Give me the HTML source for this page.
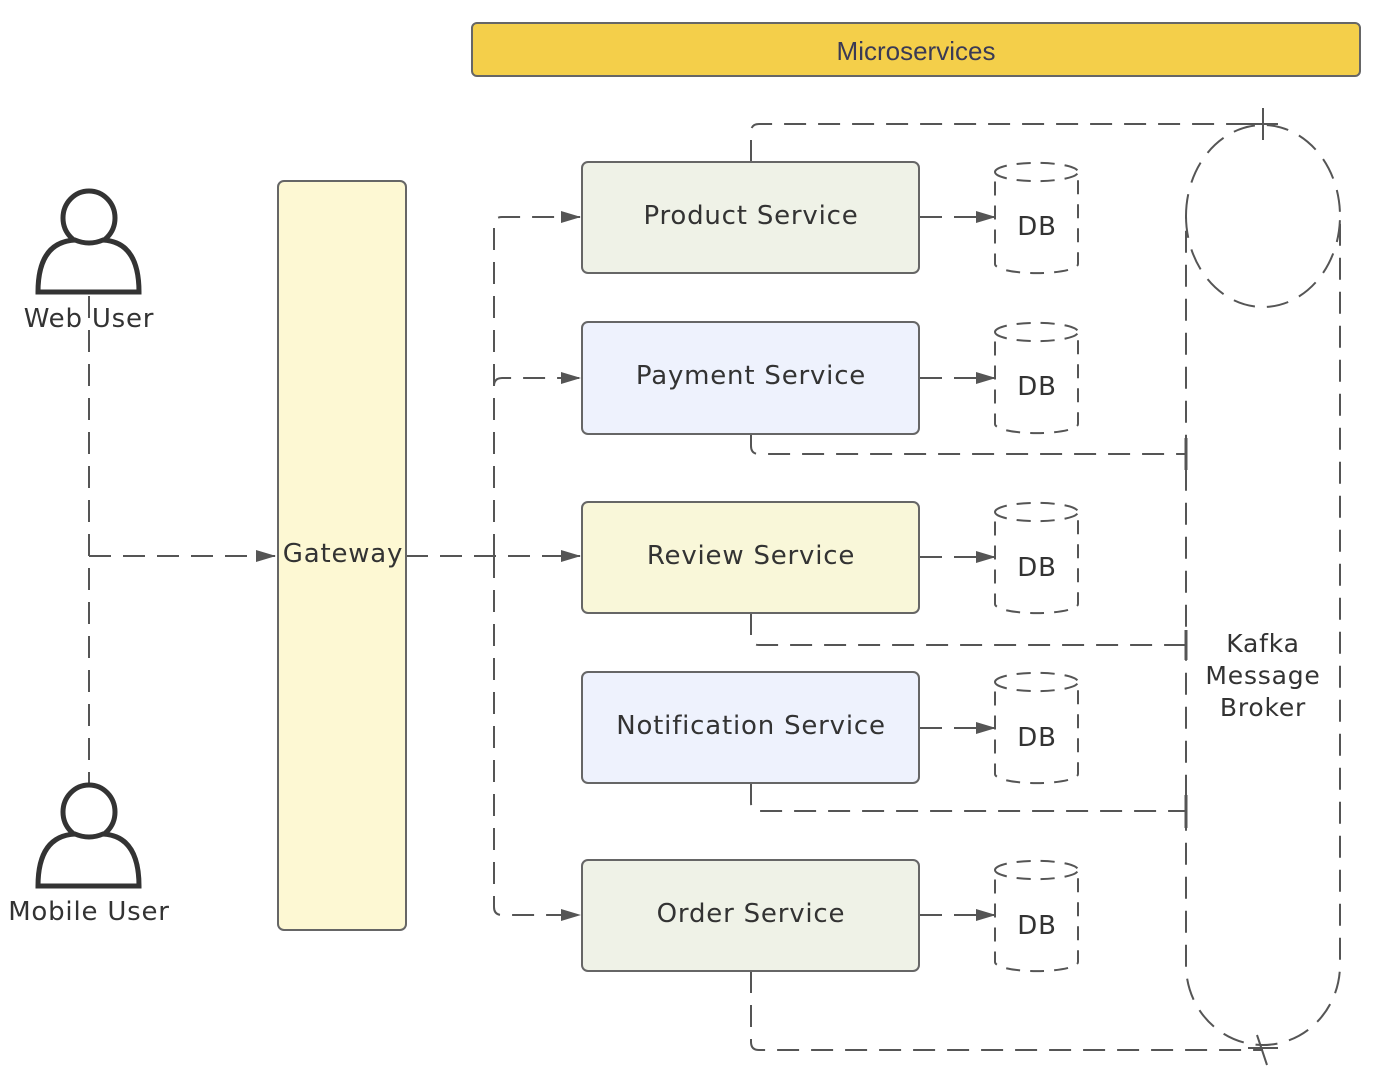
<!DOCTYPE html>
<html><head><meta charset="utf-8"><style>
html,body{margin:0;padding:0;background:#fff;}
svg{display:block;}
text{font-family:"DejaVu Sans","Liberation Sans",sans-serif;fill:#333;letter-spacing:0.8px;}
</style></head><body>
<svg width="1380" height="1087" viewBox="0 0 1380 1087" xmlns="http://www.w3.org/2000/svg">
<defs>
<marker id="ar" markerWidth="20" markerHeight="14" refX="19" refY="7" orient="auto" markerUnits="userSpaceOnUse">
<path d="M0,1 L20,7 L0,13 z" fill="#555"/>
</marker>
</defs>
<rect x="472" y="23" width="888" height="53" rx="5" fill="#f4cf4a" stroke="#666" stroke-width="2"/>
<text x="916" y="60" text-anchor="middle" font-size="26" style="font-family:'Liberation Sans',sans-serif;fill:#3a3a55;letter-spacing:0">Microservices</text>

<g fill="none" stroke="#555" stroke-width="2" stroke-dasharray="22,12">
<path d="M89 296 V785"/>
<path d="M89 556 H275" marker-end="url(#ar)"/>
<path d="M406 556 H580" marker-end="url(#ar)"/>
<path d="M494 556 V225 Q494 217 502 217 H580" marker-end="url(#ar)"/>
<path d="M494 556 V386 Q494 378 502 378 H580" marker-end="url(#ar)"/>
<path d="M494 556 V907 Q494 915 502 915 H580" marker-end="url(#ar)"/>
<path d="M920 217 H995" marker-end="url(#ar)"/>
<path d="M920 378 H995" marker-end="url(#ar)"/>
<path d="M920 557 H995" marker-end="url(#ar)"/>
<path d="M920 728 H995" marker-end="url(#ar)"/>
<path d="M920 915 H995" marker-end="url(#ar)"/>
<path d="M751 162 V132 Q751 124 759 124 H1263"/>
<path d="M751 434 V446 Q751 454 759 454 H1186"/>
<path d="M751 613 V637 Q751 645 759 645 H1186"/>
<path d="M751 783 V803 Q751 811 759 811 H1186"/>
<path d="M751 971 V1042 Q751 1050 759 1050 H1263"/>
<path d="M1186 216 A77 91 0 0 1 1340 216 V965 A77 80 0 0 1 1186 965 Z"/>
<path d="M1186 216 A77 91 0 0 0 1340 216"/>
</g>
<g stroke="#555" stroke-width="2">
<path d="M1263 108 V140 M1248 124 H1278"/>
<path d="M1257 1035 L1267 1065 M1248 1048 H1278"/>
<path d="M1186 438 V470 M1186 630 V660 M1186 795 V828" stroke-width="3"/>
</g>
<text x="1263" y="652" text-anchor="middle" font-size="25">Kafka</text>
<text x="1263" y="684" text-anchor="middle" font-size="25">Message</text>
<text x="1263" y="716" text-anchor="middle" font-size="25">Broker</text>

<g fill="#fff" stroke="#333" stroke-width="5">
<ellipse cx="89" cy="218" rx="26" ry="27"/>
<path d="M38 292 Q38 242 75 240 Q89 246 103 240 Q139 242 139 292 Z"/>
<ellipse cx="89" cy="812" rx="26" ry="27"/>
<path d="M38 886 Q38 836 75 834 Q89 840 103 834 Q139 836 139 886 Z"/>
</g>
<text x="89" y="327" text-anchor="middle" font-size="26">Web User</text>
<text x="89" y="920" text-anchor="middle" font-size="26">Mobile User</text>

<rect x="278" y="181" width="128" height="749" rx="6" fill="#fdf8d3" stroke="#666" stroke-width="2"/>
<text x="343" y="562" text-anchor="middle" font-size="26">Gateway</text>

<g stroke="#666" stroke-width="2">
<rect x="582" y="162" width="337" height="111" rx="6" fill="#eff2e7"/>
<rect x="582" y="322" width="337" height="112" rx="6" fill="#eef2fd"/>
<rect x="582" y="502" width="337" height="111" rx="6" fill="#f9f7d9"/>
<rect x="582" y="672" width="337" height="111" rx="6" fill="#eef2fd"/>
<rect x="582" y="860" width="337" height="111" rx="6" fill="#eff2e7"/>
</g>
<g font-size="26" text-anchor="middle">
<text x="751" y="224">Product Service</text>
<text x="751" y="384">Payment Service</text>
<text x="751" y="564">Review Service</text>
<text x="751" y="734">Notification Service</text>
<text x="751" y="922">Order Service</text>
</g>

<g fill="none" stroke="#555" stroke-width="2" stroke-dasharray="14,10">
<path d="M995 172 A41 9 0 0 1 1078 172 V264 A41 9 0 0 1 995 264 Z M995 172 A41 9 0 0 0 1078 172"/>
<path d="M995 332 A41 9 0 0 1 1078 332 V424 A41 9 0 0 1 995 424 Z M995 332 A41 9 0 0 0 1078 332"/>
<path d="M995 512 A41 9 0 0 1 1078 512 V604 A41 9 0 0 1 995 604 Z M995 512 A41 9 0 0 0 1078 512"/>
<path d="M995 682 A41 9 0 0 1 1078 682 V774 A41 9 0 0 1 995 774 Z M995 682 A41 9 0 0 0 1078 682"/>
<path d="M995 870 A41 9 0 0 1 1078 870 V962 A41 9 0 0 1 995 962 Z M995 870 A41 9 0 0 0 1078 870"/>
</g>
<g font-size="26" text-anchor="middle">
<text x="1037" y="235">DB</text>
<text x="1037" y="395">DB</text>
<text x="1037" y="576">DB</text>
<text x="1037" y="746">DB</text>
<text x="1037" y="934">DB</text>
</g>
</svg>
</body></html>
